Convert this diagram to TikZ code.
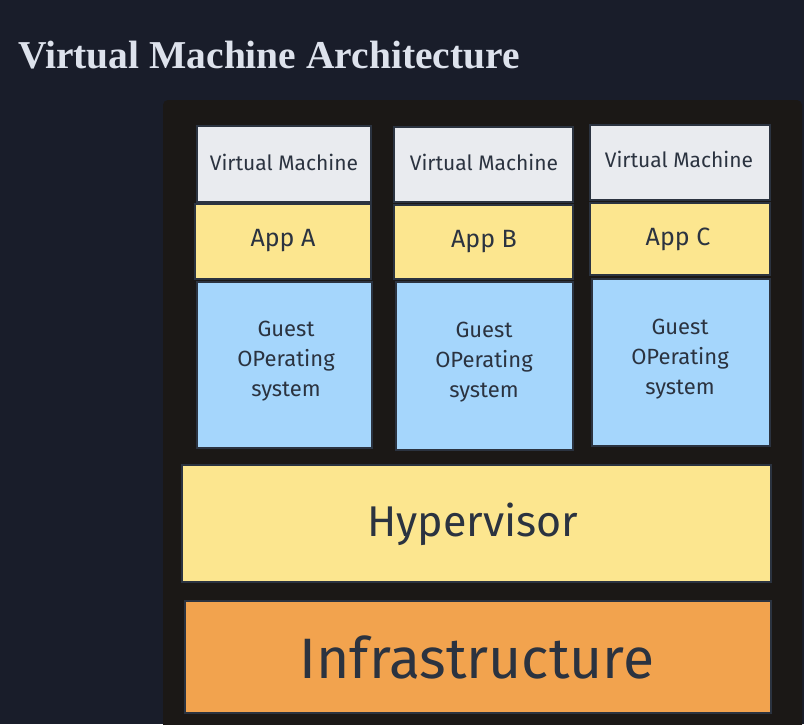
\documentclass[tikz,border=0pt]{standalone}
\usepackage{fontspec}
\setmainfont{Fira Sans}
\newfontfamily\titlefont{Liberation Serif}
\definecolor{bgnavy}{HTML}{191D2A}
\definecolor{panel}{HTML}{1B1816}
\definecolor{vmgray}{HTML}{E9EBEF}
\definecolor{appyel}{HTML}{FCE68F}
\definecolor{osblue}{HTML}{A5D6FC}
\definecolor{infraor}{HTML}{F2A34E}
\definecolor{inkc}{HTML}{2B3340}
\definecolor{titlec}{HTML}{DDE2EC}
\tikzset{
  sketch/.style={draw=inkc, line width=1.4pt},
  vmbox/.style={sketch, fill=vmgray},
  appbox/.style={sketch, fill=appyel},
  osbox/.style={sketch, fill=osblue},
  hypbox/.style={sketch, fill=appyel},
  infbox/.style={sketch, fill=infraor},
  lbl/.style={text=inkc, align=center, inner sep=0pt},
  vmfont/.style={font=\fontsize{21}{24}\selectfont},
  appfont/.style={font=\fontsize{25}{28}\selectfont},
  osfont/.style={font=\fontsize{22}{30}\selectfont}
}
\begin{document}
\begin{tikzpicture}[x=1pt,y=-1pt]
\useasboundingbox (0,0) rectangle (804,724);
\fill[bgnavy] (0,0) rectangle (804,724);
\begin{scope}
\clip (0,0) rectangle (804,724);
\fill[panel, rounded corners=5pt] (163,100) rectangle (802,740);
\end{scope}
\node[anchor=base west, text=titlec, inner sep=0pt, font=\titlefont\bfseries\fontsize{39.5}{44}\selectfont] (title) at (18,68) {Virtual Machine Architecture};
% column 1
\draw[vmbox] (197,126) rectangle (371,202);
\node[lbl, vmfont] (vm1) at (284,162) {Virtual Machine};
\draw[appbox] (195,204) rectangle (371,279);
\node[lbl, appfont] (app1) at (283,241) {App A};
\draw[osbox] (197,282) rectangle (372,448);
\node[lbl, osfont] (os1) at (286,361) {Guest\\OPerating\\system};
% column 2
\draw[vmbox] (394,127) rectangle (573,202);
\node[lbl, vmfont] (vm2) at (484,162) {Virtual Machine};
\draw[appbox] (394,205) rectangle (573,279);
\node[lbl, appfont] (app2) at (484,242) {App B};
\draw[osbox] (396,282) rectangle (573,450);
\node[lbl, osfont] (os2) at (484,362) {Guest\\OPerating\\system};
% column 3
\draw[vmbox] (590,125) rectangle (770,200);
\node[lbl, vmfont] (vm3) at (679,159) {Virtual Machine};
\draw[appbox] (590,203) rectangle (770,275);
\node[lbl, appfont] (app3) at (678,239) {App C};
\draw[osbox] (592,279) rectangle (770,446);
\node[lbl, osfont] (os3) at (680,359) {Guest\\OPerating\\system};
% hypervisor
\draw[hypbox] (182,465) rectangle (771,582);
\node[lbl, font=\fontsize{43}{46}\selectfont] (hyp) at (473,524) {Hypervisor};
% infrastructure
\draw[infbox] (185,601) rectangle (771,713);
\node[lbl, font=\fontsize{57}{60}\selectfont] (inf) at (477,657) {Infrastructure};
\end{tikzpicture}
\end{document}
